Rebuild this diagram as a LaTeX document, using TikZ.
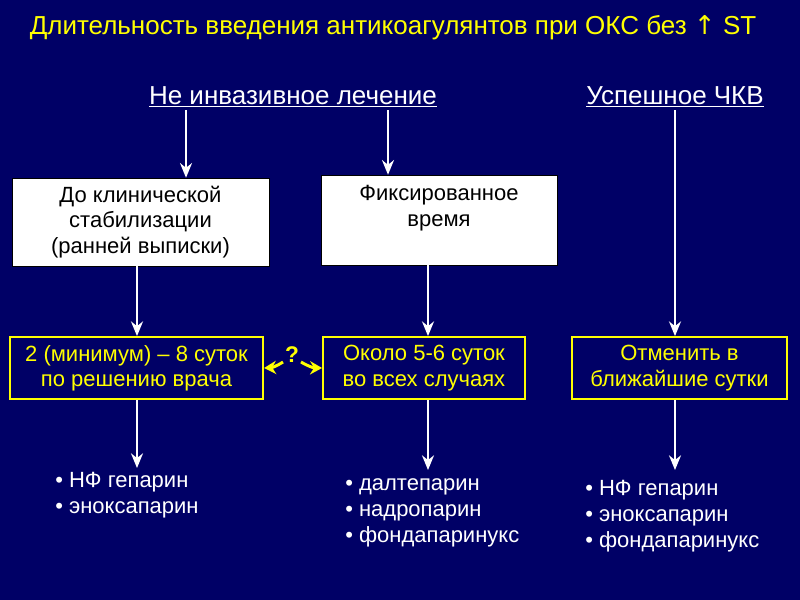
\documentclass[tikz,border=0pt]{standalone}
\usepackage{fontspec}
\setmainfont{Liberation Sans}
\newfontfamily\dv{DejaVu Sans}
\usetikzlibrary{arrows.meta}
\definecolor{bg}{HTML}{000066}
\definecolor{yel}{HTML}{FFFF00}
\begin{document}
\begin{tikzpicture}[x=0.75pt,y=-0.75pt,
 wbox/.style={draw=black,fill=white,text=black,align=center,font=\fontsize{16.5}{19}\selectfont,inner sep=0},
 ybox/.style={draw=yel,line width=1.4pt,fill=bg,text=yel,align=center,font=\fontsize{16.5}{19}\selectfont,inner sep=0},
 arr/.style={white,line width=1.5pt,-{Stealth[length=11pt,width=9pt]}},
 yarr/.style={yel,line width=2.2pt,-{Stealth[length=9pt,width=10pt]}},
 lst/.style={white,align=left,anchor=north west,font=\fontsize{16.5}{19.5}\selectfont,inner sep=0},
 hdr/.style={white,font=\fontsize{19.5}{22}\selectfont}]
\fill[bg] (0,0) rectangle (800,600);
\node[yel,font=\fontsize{19.5}{22}\selectfont] (title) at (393,28) {Длительность введения антикоагулянтов при ОКС без {\dv↑} ST};
\node[hdr] (h1) at (293,97) {\underline{Не инвазивное лечение}};
\node[hdr] (h2) at (675,97) {\underline{Успешное ЧКВ}};
\node[wbox,minimum width=193pt,minimum height=66pt] (wb1) at (140.5,222) {До клинической\\стабилизации\\(ранней выписки)};
\node[wbox,minimum width=177pt,minimum height=67.5pt] (wb2) at (439,220) {};
\node[black,font=\fontsize{16.5}{19}\selectfont,align=center] (wt2) at (439,208) {Фиксированное\\время};
\node[ybox,minimum width=190pt,minimum height=46.5pt] (y1) at (136.5,368) {2 (минимум) – 8 суток\\по решению врача};
\node[ybox,minimum width=151.5pt,minimum height=46.5pt] (y2) at (424,368) {Около 5-6 суток\\во всех случаях};
\node[ybox,minimum width=161pt,minimum height=46.5pt] (y3) at (679.5,368) {Отменить в\\ближайшие сутки};
\coordinate (a1) at (186,110); \coordinate (a2) at (388,110); \coordinate (a3) at (675,110);
\coordinate (b1) at (137,0); \coordinate (b2) at (428,0);
\draw[arr] (a1) -- (a1 |- wb1.north);
\draw[arr] (a2) -- (a2 |- wb2.north);
\draw[arr] (a3) -- (a3 |- y3.north);
\draw[arr] (b1 |- wb1.south) -- (b1 |- y1.north);
\draw[arr] (b2 |- wb2.south) -- (b2 |- y2.north);
\coordinate (l1) at (137,468); \coordinate (l2) at (428,470); \coordinate (l3) at (675,470);
\draw[arr] (l1 |- y1.south) -- (l1);
\draw[arr] (l2 |- y2.south) -- (l2);
\draw[arr] (l3 |- y3.south) -- (l3);
\node[yel,font=\bfseries\fontsize{17}{20}\selectfont] (q) at (292,355) {?};
\draw[yarr] (283,362) to[bend left=15] (y1.east);
\draw[yarr] (301,362) to[bend right=15] (y2.west);
\node[lst] (L1) at (55,472) {• НФ гепарин\\• эноксапарин};
\node[lst] (L2) at (345,478) {• далтепарин\\• надропарин\\• фондапаринукс};
\node[lst] (L3) at (585,480) {• НФ гепарин\\• эноксапарин\\• фондапаринукс};
\end{tikzpicture}
\end{document}
